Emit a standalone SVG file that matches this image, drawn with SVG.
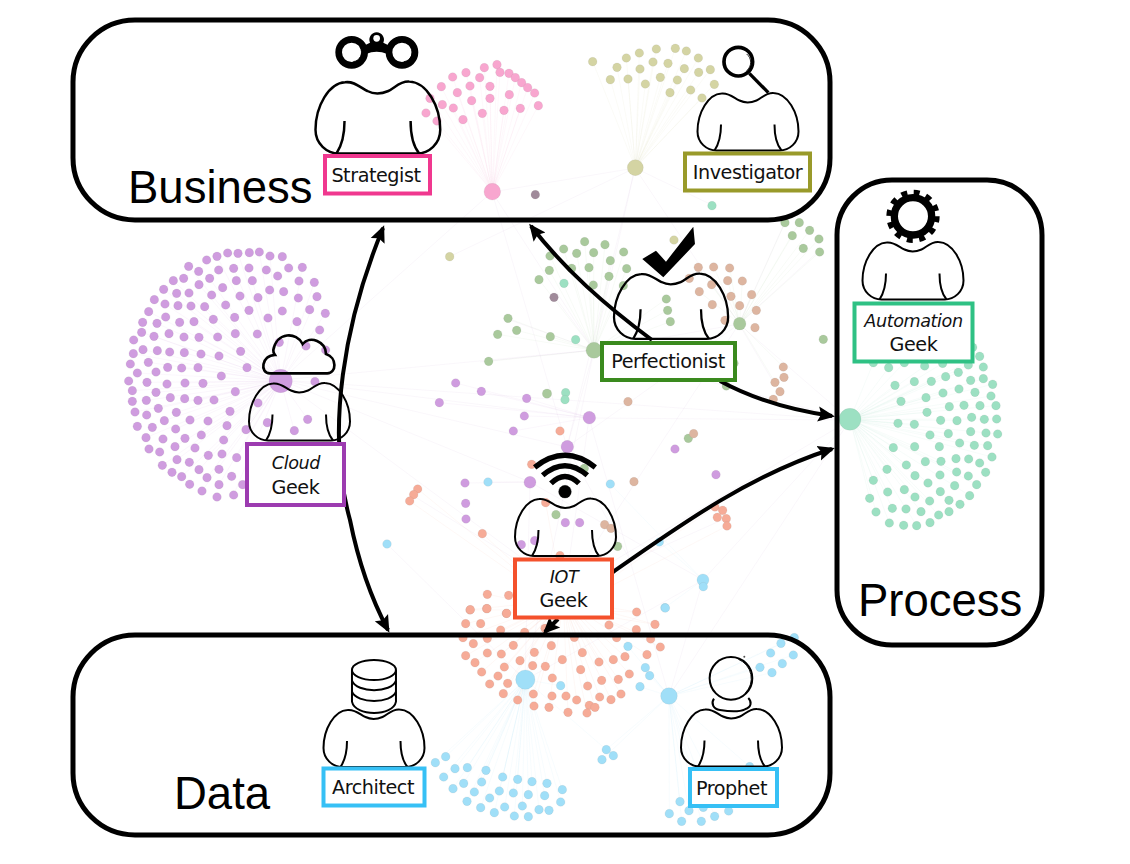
<svg xmlns="http://www.w3.org/2000/svg" xmlns:xlink="http://www.w3.org/1999/xlink" width="1130" height="864" viewBox="0 0 1130 864">
<style>
text{font-family:"DejaVu Sans","Liberation Sans",sans-serif;font-size:19.2px;letter-spacing:-.45px;fill:#111;text-anchor:middle}
text.i{font-style:italic;font-size:17.6px;letter-spacing:-.4px}
text.t{font-family:"Liberation Sans",Arial,sans-serif;font-size:45.5px;letter-spacing:0;text-anchor:start;fill:#000}
.region{fill:none;stroke:#000;stroke-width:5}
.lab{fill:#fff;stroke-width:4}
.body{fill:none;stroke:#000;stroke-width:2}
.body path{vector-effect:non-scaling-stroke}
.ic{fill:none;stroke:#000;stroke-linecap:butt}
.dots circle{stroke:#777;stroke-opacity:.2;stroke-width:1.5}
.edge{fill:none;stroke-width:2.5;stroke-opacity:.1}
.far{fill:none;stroke-width:1;stroke-opacity:.09}
.pink{fill:#f8a6cf}.pinke{stroke:#f8a6cf}
.olive{fill:#d4d4a3}.olivee{stroke:#d4d4a3}
.purple{fill:#cf9cdf}.purplee{stroke:#cf9cdf}
.green{fill:#a9c99c}.greene{stroke:#a9c99c}
.tan{fill:#ddb5a0}
.teal{fill:#9ce0c2}.teale{stroke:#9ce0c2}
.orange{fill:#f6ab97}.orangee{stroke:#f6ab97}
.blue{fill:#a0dff8}.bluee{stroke:#a0dff8}
.mauve{fill:#a08a9a}
.conn{fill:none;stroke:#000;stroke-width:4}
</style>
<defs>
<marker id="ah" markerUnits="userSpaceOnUse" markerWidth="20" markerHeight="18" viewBox="0 0 20 18" refX="14" refY="9" orient="auto-start-reverse"><path d="M0 1.500L17 9L0 16.500L3 9Z" fill="#000"/></marker>
<g id="bodyShape"><path d="M24 1C32 0 37 6 42 8C47 10.500 53 10.500 59 8C64 6 68 0 76 .5C90 1 101 20 101 39C101 50 92 58 82 58L19 58C9 58 0 50 0 39C0 20 11 1.500 24 1Z"/><path d="M23.500 32C23.500 43 21 52 17 58M77 32C77 43 79 52 84 58"/></g>
</defs>

<g id="network">
<g id="farEdges">
<path class="far" stroke="#c9a8d8" d="M281 380L594 350M281 380L589 418M281 380L850 420M281 380L567 447M281 380L530 482M281 380L565 590M589 418L850 420M567 447L492 192M567 447L739 324M530 482L525 680M530 482L703 580M594 350L492 192M594 350L635 168M594 350L739 324M594 350L850 420M594 350L567 447M739 324L850 420M739 324L635 168M635 168L712 205M492 192L635 168M492 192L281 380M635 168L567 447M635 168L449 257M703 580L850 420M703 580L669 696M703 580L525 680M669 696L850 420M565 590L850 420M565 590L589 418M565 590L412 495M565 590L722 520M565 590L739 324M525 680L387 544M525 680L594 350M669 696L589 418M530 482L466 483M530 482L488 482M567 447L630 560M739 324L785 222M739 324L820 250M739 324L775 385M594 350L510 320M594 350L480 362M594 350L555 297"/>
</g>
<g transform="translate(300 20) scale(.3333)">
<path class="edge pinke" d="M577 515L591 134M577 515L553 143M577 515L498 158M577 515L458 171M577 515L424 200M577 515L390 235M577 515L378 279M577 515L411 303M577 515L427 254M577 515L460 264M577 515L489 299M577 515L472 218M577 515L515 242M577 515L510 198M577 515L539 173M577 515L600 157M577 515L627 160M577 515L646 173M577 515L665 188M577 515L683 203M577 515L704 219M577 515L715 257M577 515L661 265M577 515L612 271M577 515L547 280M577 515L570 235M577 515L570 199M577 515L628 224"/>
<g class="dots pink">
<circle cx="591" cy="134" r="13"/><circle cx="553" cy="143" r="13"/><circle cx="498" cy="158" r="13"/><circle cx="458" cy="171" r="13"/><circle cx="424" cy="200" r="13"/><circle cx="390" cy="235" r="13"/><circle cx="378" cy="279" r="13"/><circle cx="411" cy="303" r="13"/><circle cx="427" cy="254" r="13"/><circle cx="460" cy="264" r="13"/><circle cx="489" cy="299" r="13"/><circle cx="472" cy="218" r="13"/><circle cx="515" cy="242" r="13"/><circle cx="510" cy="198" r="13"/><circle cx="539" cy="173" r="13"/><circle cx="600" cy="157" r="13"/><circle cx="627" cy="160" r="13"/><circle cx="646" cy="173" r="13"/><circle cx="665" cy="188" r="13"/><circle cx="683" cy="203" r="13"/><circle cx="704" cy="219" r="13"/><circle cx="715" cy="257" r="13"/><circle cx="661" cy="265" r="13"/><circle cx="612" cy="271" r="13"/><circle cx="547" cy="280" r="13"/><circle cx="570" cy="235" r="13"/><circle cx="570" cy="199" r="13"/><circle cx="628" cy="224" r="13"/><circle cx="577" cy="515" r="25"/>
</g>
<g class="dots mauve"><circle cx="706" cy="524" r="13"/></g>
</g>
<g transform="translate(570 30) scale(.3333)">
<path class="edge olivee" d="M196 413L68 95M196 413L141 112M196 413L169 84M196 413L208 69M196 413L259 57M196 413L316 55M196 413L349 63M196 413L385 84M196 413L421 119M196 413L433 163M196 413L396 204M196 413L362 180M196 413L300 188M196 413L226 162M196 413L174 147M196 413L121 149M196 413L210 117M196 413L249 96M196 413L294 100M196 413L343 116M196 413L386 127M196 413L322 150M196 413L271 142"/>
<g class="dots olive">
<circle cx="68" cy="95" r="13"/><circle cx="141" cy="112" r="13"/><circle cx="169" cy="84" r="13"/><circle cx="208" cy="69" r="13"/><circle cx="259" cy="57" r="13"/><circle cx="316" cy="55" r="13"/><circle cx="349" cy="63" r="13"/><circle cx="385" cy="84" r="13"/><circle cx="421" cy="119" r="13"/><circle cx="433" cy="163" r="13"/><circle cx="396" cy="204" r="13"/><circle cx="362" cy="180" r="13"/><circle cx="300" cy="188" r="13"/><circle cx="226" cy="162" r="13"/><circle cx="174" cy="147" r="13"/><circle cx="121" cy="149" r="13"/><circle cx="210" cy="117" r="13"/><circle cx="249" cy="96" r="13"/><circle cx="294" cy="100" r="13"/><circle cx="343" cy="116" r="13"/><circle cx="386" cy="127" r="13"/><circle cx="322" cy="150" r="13"/><circle cx="271" cy="142" r="13"/><circle cx="196" cy="413" r="24"/>
</g>
<g class="dots teal"><circle cx="426" cy="527" r="13"/></g>
</g>
<g transform="translate(120 240) scale(.3333)">
<path class="edge purplee" d="M482 423L418 36M482 423L354 40M482 423L291 49M482 423L206 79M482 423L160 122M482 423L131 148M482 423L86 215M482 423L65 277M482 423L40 341M482 423L52 399M482 423L37 452M482 423L45 516M482 423L78 593M482 423L127 676M482 423L185 710M482 423L246 753M482 423L341 765M482 423L450 48M482 423L547 82M482 423L583 127M482 423L591 170M482 423L616 220M482 423L599 270M482 423L341 85M482 423L269 115M482 423L397 122M482 423L237 134M482 423L170 160M482 423L135 192M482 423L254 200M482 423L111 250M482 423L222 245M482 423L102 289M482 423L237 292M482 423L69 329M482 423L193 338M482 423L85 367M482 423L185 384M482 423L81 427M482 423L195 429M482 423L108 457M482 423L79 481M482 423L234 481M482 423L115 505M482 423L169 517M482 423L133 542M482 423L264 543M482 423L167 567M482 423L244 585M482 423L165 620M482 423L265 646M482 423L171 659M482 423L237 689M482 423L261 713M482 423L297 734M482 423L350 653M482 423L378 569M482 423L523 572M482 423L563 538"/>
<g class="dots purple">
<circle cx="418" cy="36" r="13"/><circle cx="388" cy="38" r="13"/><circle cx="354" cy="40" r="13"/><circle cx="323" cy="39" r="13"/><circle cx="291" cy="49" r="13"/><circle cx="260" cy="60" r="13"/><circle cx="206" cy="79" r="13"/><circle cx="236" cy="94" r="13"/><circle cx="160" cy="122" r="13"/><circle cx="191" cy="115" r="13"/><circle cx="131" cy="148" r="13"/><circle cx="103" cy="179" r="13"/><circle cx="86" cy="215" r="13"/><circle cx="68" cy="247" r="13"/><circle cx="65" cy="277" r="13"/><circle cx="41" cy="300" r="13"/><circle cx="40" cy="341" r="13"/><circle cx="31" cy="372" r="13"/><circle cx="52" cy="399" r="13"/><circle cx="26" cy="423" r="13"/><circle cx="37" cy="452" r="13"/><circle cx="37" cy="484" r="13"/><circle cx="45" cy="516" r="13"/><circle cx="52" cy="559" r="13"/><circle cx="78" cy="593" r="13"/><circle cx="87" cy="627" r="13"/><circle cx="127" cy="676" r="13"/><circle cx="156" cy="697" r="13"/><circle cx="185" cy="710" r="13"/><circle cx="209" cy="733" r="13"/><circle cx="246" cy="753" r="13"/><circle cx="291" cy="771" r="13"/><circle cx="341" cy="765" r="13"/><circle cx="368" cy="734" r="13"/>
<circle cx="450" cy="48" r="13"/><circle cx="487" cy="50" r="13"/><circle cx="547" cy="82" r="13"/><circle cx="506" cy="84" r="13"/><circle cx="583" cy="127" r="13"/><circle cx="537" cy="123" r="13"/><circle cx="591" cy="170" r="13"/><circle cx="535" cy="174" r="13"/><circle cx="616" cy="220" r="13"/><circle cx="569" cy="209" r="13"/><circle cx="599" cy="270" r="13"/><circle cx="531" cy="245" r="13"/><circle cx="617" cy="330" r="13"/><circle cx="558" cy="318" r="13"/><circle cx="585" cy="425" r="13"/><circle cx="563" cy="538" r="13"/><circle cx="523" cy="572" r="13"/><circle cx="478" cy="307" r="13"/>
<circle cx="296" cy="90" r="13"/><circle cx="341" cy="85" r="13"/><circle cx="387" cy="84" r="13"/><circle cx="439" cy="90" r="13"/><circle cx="473" cy="108" r="13"/><circle cx="269" cy="115" r="13"/><circle cx="349" cy="122" r="13"/><circle cx="397" cy="122" r="13"/><circle cx="449" cy="150" r="13"/><circle cx="491" cy="155" r="13"/><circle cx="237" cy="134" r="13"/><circle cx="308" cy="143" r="13"/><circle cx="207" cy="159" r="13"/><circle cx="170" cy="160" r="13"/><circle cx="275" cy="165" r="13"/><circle cx="360" cy="168" r="13"/><circle cx="414" cy="173" r="13"/><circle cx="487" cy="213" r="13"/><circle cx="135" cy="192" r="13"/><circle cx="174" cy="197" r="13"/><circle cx="213" cy="198" r="13"/><circle cx="254" cy="200" r="13"/><circle cx="317" cy="195" r="13"/><circle cx="387" cy="211" r="13"/><circle cx="444" cy="234" r="13"/><circle cx="111" cy="250" r="13"/><circle cx="137" cy="231" r="13"/><circle cx="179" cy="247" r="13"/><circle cx="222" cy="245" r="13"/><circle cx="280" cy="238" r="13"/><circle cx="344" cy="232" r="13"/><circle cx="102" cy="289" r="13"/><circle cx="147" cy="281" r="13"/><circle cx="192" cy="291" r="13"/><circle cx="237" cy="292" r="13"/><circle cx="293" cy="291" r="13"/><circle cx="346" cy="281" r="13"/><circle cx="412" cy="282" r="13"/><circle cx="69" cy="329" r="13"/><circle cx="112" cy="332" r="13"/><circle cx="149" cy="336" r="13"/><circle cx="193" cy="338" r="13"/><circle cx="243" cy="342" r="13"/><circle cx="297" cy="348" r="13"/><circle cx="362" cy="334" r="13"/><circle cx="85" cy="367" r="13"/><circle cx="143" cy="382" r="13"/><circle cx="185" cy="384" r="13"/><circle cx="234" cy="383" r="13"/><circle cx="381" cy="383" r="13"/><circle cx="108" cy="396" r="13"/><circle cx="304" cy="408" r="13"/><circle cx="81" cy="427" r="13"/><circle cx="141" cy="432" r="13"/><circle cx="195" cy="429" r="13"/><circle cx="249" cy="430" r="13"/><circle cx="108" cy="457" r="13"/><circle cx="346" cy="455" r="13"/><circle cx="79" cy="481" r="13"/><circle cx="151" cy="473" r="13"/><circle cx="194" cy="476" r="13"/><circle cx="234" cy="481" r="13"/><circle cx="282" cy="480" r="13"/><circle cx="414" cy="489" r="13"/><circle cx="115" cy="505" r="13"/><circle cx="80" cy="525" r="13"/><circle cx="169" cy="517" r="13"/><circle cx="330" cy="514" r="13"/><circle cx="133" cy="542" r="13"/><circle cx="97" cy="562" r="13"/><circle cx="210" cy="540" r="13"/><circle cx="264" cy="543" r="13"/><circle cx="321" cy="557" r="13"/><circle cx="442" cy="548" r="13"/><circle cx="378" cy="569" r="13"/><circle cx="167" cy="567" r="13"/><circle cx="129" cy="597" r="13"/><circle cx="195" cy="595" r="13"/><circle cx="244" cy="585" r="13"/><circle cx="311" cy="600" r="13"/><circle cx="165" cy="620" r="13"/><circle cx="119" cy="636" r="13"/><circle cx="225" cy="624" r="13"/><circle cx="265" cy="646" r="13"/><circle cx="306" cy="642" r="13"/><circle cx="350" cy="653" r="13"/><circle cx="171" cy="659" r="13"/><circle cx="208" cy="667" r="13"/><circle cx="237" cy="689" r="13"/><circle cx="297" cy="688" r="13"/><circle cx="261" cy="713" r="13"/><circle cx="335" cy="709" r="13"/><circle cx="297" cy="734" r="13"/><circle cx="482" cy="423" r="35"/>
</g>
</g>
<g transform="translate(430 220) scale(.3333)">
<path class="edge greene" d="M492 391L360 108M492 391L401 87M492 391L464 65M492 391L525 74M492 391L440 100M492 391L491 98M492 391L581 96M492 391L541 122M492 391L358 151M492 391L327 179M492 391L425 145M492 391L477 143M492 391L537 169M492 391L590 146M492 391L490 195M492 391L580 197M492 391L234 295M492 391L260 331M492 391L203 343M492 391L361 350M492 391L176 424M492 391L709 237M492 391L713 271M492 391L721 305M929 311L805 142M929 311L851 141M929 311L899 144M929 311L845 194M929 311L893 182M929 311L937 183M929 311L808 215M929 311L903 229M929 311L965 224M929 311L1065 8M929 311L1108 8M929 311L1087 47M929 311L1139 31M929 311L1167 57M929 311L1120 85M929 311L1169 96M929 311L1060 441M929 311L1035 487"/>
<path class="edge purplee" d="M478 593L77 489M478 593L154 514M478 593L28 548M478 593L290 535M478 593L283 588M478 593L250 633"/>
<g class="dots green">
<circle cx="360" cy="108" r="13"/><circle cx="401" cy="87" r="13"/><circle cx="464" cy="65" r="13"/><circle cx="525" cy="74" r="13"/><circle cx="440" cy="100" r="13"/><circle cx="491" cy="98" r="13"/><circle cx="581" cy="96" r="13"/><circle cx="541" cy="122" r="13"/><circle cx="358" cy="151" r="13"/><circle cx="327" cy="179" r="13"/><circle cx="425" cy="145" r="13"/><circle cx="477" cy="143" r="13"/><circle cx="537" cy="169" r="13"/><circle cx="590" cy="146" r="13"/><circle cx="490" cy="195" r="13"/><circle cx="580" cy="197" r="13"/><circle cx="709" cy="237" r="13"/><circle cx="713" cy="271" r="13"/><circle cx="721" cy="305" r="13"/><circle cx="234" cy="295" r="13"/><circle cx="260" cy="331" r="13"/><circle cx="203" cy="343" r="13"/><circle cx="361" cy="350" r="13"/><circle cx="176" cy="424" r="13"/><circle cx="351" cy="521" r="14"/><circle cx="889" cy="498" r="13"/><circle cx="912" cy="430" r="13"/><circle cx="1065" cy="8" r="13"/><circle cx="1108" cy="8" r="13"/><circle cx="1087" cy="47" r="13"/><circle cx="1139" cy="31" r="13"/><circle cx="1167" cy="57" r="13"/><circle cx="1120" cy="85" r="13"/><circle cx="1169" cy="96" r="13"/><circle cx="1180" cy="358" r="13"/><circle cx="775" cy="655" r="13"/><circle cx="492" cy="391" r="24"/><circle cx="929" cy="311" r="19"/>
</g>
<g class="dots tan">
<circle cx="805" cy="142" r="13"/><circle cx="851" cy="141" r="13"/><circle cx="899" cy="144" r="13"/><circle cx="778" cy="175" r="13"/><circle cx="845" cy="194" r="13"/><circle cx="893" cy="182" r="13"/><circle cx="937" cy="183" r="13"/><circle cx="808" cy="215" r="13"/><circle cx="903" cy="229" r="13"/><circle cx="965" cy="224" r="13"/><circle cx="847" cy="254" r="13"/><circle cx="929" cy="257" r="13"/><circle cx="979" cy="271" r="13"/><circle cx="885" cy="301" r="13"/><circle cx="975" cy="323" r="13"/><circle cx="1060" cy="441" r="13"/><circle cx="1062" cy="472" r="13"/><circle cx="1035" cy="487" r="13"/><circle cx="1050" cy="515" r="13"/><circle cx="1030" cy="538" r="13"/><circle cx="594" cy="545" r="13"/><circle cx="791" cy="641" r="13"/>
</g>
<g class="dots teal"><circle cx="402" cy="190" r="13"/><circle cx="437" cy="359" r="13"/><circle cx="407" cy="518" r="13"/><circle cx="405" cy="539" r="13"/></g>
<g class="dots mauve"><circle cx="372" cy="232" r="13"/></g>
<g class="dots olive"><circle cx="59" cy="110" r="13"/><circle cx="732" cy="60" r="13"/></g>
<g class="dots purple"><circle cx="77" cy="489" r="13"/><circle cx="154" cy="514" r="13"/><circle cx="28" cy="548" r="13"/><circle cx="290" cy="535" r="13"/><circle cx="283" cy="588" r="13"/><circle cx="250" cy="633" r="13"/><circle cx="478" cy="593" r="19"/></g>
<g class="dots orange"><circle cx="390" cy="633" r="13"/></g>
</g>
<g transform="translate(830 180) scale(.3333)">
<path class="edge teale" d="M60 718L130 548M60 718L176 563M60 718L223 548M60 718L284 558M60 718L338 550M60 718L415 555M60 718L449 529M60 718L385 577M60 718L304 604M60 718L253 605M60 718L195 616M60 718L460 596M60 718L488 613M60 718L339 639M60 718L288 653M60 718L213 664M60 718L483 648M60 718L358 680M60 718L498 677M60 718L291 697M60 718L381 722M60 718L500 717M60 718L204 730M60 718L253 733M60 718L355 761M60 718L503 762M60 718L190 803M60 718L254 800M60 718L389 789M60 718L473 797M60 718L229 855M60 718L333 844M60 718L486 831M60 718L171 868M60 718L255 887M60 718L380 876M60 718L130 901M60 718L294 909M60 718L440 914M60 718L173 936M60 718L255 951M60 718L419 947M60 718L119 955M60 718L299 963M60 718L187 985M60 718L273 995M60 718L138 996M60 718L178 1029M60 718L260 1037M60 718L326 1005"/>
<g class="dots teal">
<circle cx="130" cy="548" r="13"/><circle cx="176" cy="563" r="13"/><circle cx="223" cy="548" r="13"/><circle cx="284" cy="558" r="13"/><circle cx="338" cy="550" r="13"/><circle cx="415" cy="555" r="13"/><circle cx="428" cy="502" r="13"/><circle cx="449" cy="529" r="13"/><circle cx="460" cy="561" r="13"/><circle cx="385" cy="577" r="13"/><circle cx="347" cy="590" r="13"/><circle cx="304" cy="604" r="13"/><circle cx="253" cy="605" r="13"/><circle cx="195" cy="616" r="13"/><circle cx="422" cy="601" r="13"/><circle cx="460" cy="596" r="13"/><circle cx="488" cy="613" r="13"/><circle cx="387" cy="627" r="13"/><circle cx="339" cy="639" r="13"/><circle cx="288" cy="653" r="13"/><circle cx="213" cy="664" r="13"/><circle cx="435" cy="637" r="13"/><circle cx="483" cy="648" r="13"/><circle cx="358" cy="680" r="13"/><circle cx="402" cy="676" r="13"/><circle cx="450" cy="677" r="13"/><circle cx="498" cy="677" r="13"/><circle cx="291" cy="697" r="13"/><circle cx="332" cy="721" r="13"/><circle cx="381" cy="722" r="13"/><circle cx="425" cy="712" r="13"/><circle cx="463" cy="718" r="13"/><circle cx="500" cy="717" r="13"/><circle cx="204" cy="730" r="13"/><circle cx="253" cy="733" r="13"/><circle cx="300" cy="765" r="13"/><circle cx="355" cy="761" r="13"/><circle cx="422" cy="755" r="13"/><circle cx="468" cy="759" r="13"/><circle cx="503" cy="762" r="13"/><circle cx="190" cy="803" r="13"/><circle cx="254" cy="800" r="13"/><circle cx="328" cy="800" r="13"/><circle cx="389" cy="789" r="13"/><circle cx="433" cy="796" r="13"/><circle cx="473" cy="797" r="13"/><circle cx="378" cy="836" r="13"/><circle cx="416" cy="837" r="13"/><circle cx="486" cy="831" r="13"/><circle cx="449" cy="849" r="13"/><circle cx="229" cy="855" r="13"/><circle cx="286" cy="845" r="13"/><circle cx="333" cy="844" r="13"/><circle cx="171" cy="868" r="13"/><circle cx="255" cy="887" r="13"/><circle cx="330" cy="885" r="13"/><circle cx="380" cy="876" r="13"/><circle cx="415" cy="888" r="13"/><circle cx="467" cy="877" r="13"/><circle cx="130" cy="901" r="13"/><circle cx="294" cy="909" r="13"/><circle cx="374" cy="917" r="13"/><circle cx="440" cy="914" r="13"/><circle cx="173" cy="936" r="13"/><circle cx="223" cy="929" r="13"/><circle cx="255" cy="951" r="13"/><circle cx="331" cy="935" r="13"/><circle cx="419" cy="947" r="13"/><circle cx="119" cy="955" r="13"/><circle cx="299" cy="963" r="13"/><circle cx="357" cy="961" r="13"/><circle cx="390" cy="973" r="13"/><circle cx="187" cy="985" r="13"/><circle cx="228" cy="987" r="13"/><circle cx="273" cy="995" r="13"/><circle cx="357" cy="995" r="13"/><circle cx="138" cy="996" r="13"/><circle cx="326" cy="1005" r="13"/><circle cx="178" cy="1029" r="13"/><circle cx="221" cy="1036" r="13"/><circle cx="260" cy="1037" r="13"/><circle cx="300" cy="1028" r="13"/><circle cx="60" cy="718" r="33"/>
</g>
</g>
<g transform="translate(380 440) scale(.3333)">
<path class="edge orangee" d="M555 510L322 463M555 510L270 510M555 510L307 281M555 510L497 188M555 510L540 347M555 510L1005 201M555 510L1041 258M555 510L113 147M555 510L89 183M555 510L824 553M555 510L769 516"/>
<path class="edge bluee" d="M969 420L855 503M969 420L838 306M969 420L691 132"/>
<g class="dots purple"><circle cx="885" cy="27" r="13"/><circle cx="255" cy="129" r="13"/><circle cx="257" cy="190" r="13"/><circle cx="258" cy="237" r="13"/><circle cx="424" cy="314" r="13"/><circle cx="464" cy="302" r="13"/><circle cx="556" cy="248" r="13"/><circle cx="599" cy="248" r="13"/><circle cx="1008" cy="104" r="13"/><circle cx="562" cy="20" r="19"/><circle cx="450" cy="127" r="18"/></g>
<g class="dots blue"><circle cx="324" cy="126" r="13"/><circle cx="691" cy="132" r="13"/><circle cx="21" cy="312" r="13"/><circle cx="838" cy="306" r="13"/><circle cx="855" cy="503" r="13"/><circle cx="969" cy="420" r="18"/><circle cx="970" cy="440" r="13"/></g>
<g class="dots green"><circle cx="528" cy="224" r="13"/><circle cx="613" cy="85" r="13"/><circle cx="713" cy="319" r="13"/></g>
<g class="dots tan"><circle cx="762" cy="125" r="13"/><circle cx="674" cy="254" r="13"/><circle cx="693" cy="265" r="13"/></g>
<g class="dots orange"><circle cx="113" cy="147" r="13"/><circle cx="101" cy="164" r="13"/><circle cx="89" cy="183" r="13"/><circle cx="455" cy="73" r="13"/><circle cx="497" cy="188" r="13"/><circle cx="307" cy="281" r="13"/><circle cx="540" cy="347" r="13"/><circle cx="1005" cy="201" r="13"/><circle cx="1028" cy="211" r="13"/><circle cx="1012" cy="232" r="13"/><circle cx="1039" cy="236" r="13"/><circle cx="1041" cy="258" r="13"/><circle cx="322" cy="463" r="13"/><circle cx="386" cy="466" r="13"/><circle cx="270" cy="510" r="13"/><circle cx="320" cy="506" r="13"/><circle cx="379" cy="520" r="13"/></g>
</g>
<g transform="translate(430 600) scale(.3333)">
<path class="edge orangee" d="M400 0L121 29M400 0L107 71M400 0L212 90M400 0L99 113M400 0L172 115M400 0L250 136M400 0L107 167M400 0L214 162M400 0L135 188M400 0L270 182M400 0L155 216M400 0L223 201M400 0L204 228M400 0L233 250M400 0L220 281M400 0L310 282M400 0L263 300M400 0L312 318M400 0L357 322M400 0L414 337M400 0L471 339M400 0L495 322M400 0L440 300M400 0L509 291M400 0L543 299M400 0L573 282M400 0L565 238M400 0L598 222M400 0L585 170M400 0L651 164M400 0L691 141M400 0L662 117M400 0L675 73M400 0L620 36M400 0L457 158M400 0L507 186"/>
<path class="edge bluee" d="M286 239L47 470M286 239L16 488M286 239L75 506M286 239L112 503M286 239L168 511M286 239L41 531M286 239L101 550M286 239L155 546M286 239L218 531M286 239L263 538M286 239L306 545M286 239L351 550M286 239L69 566M286 239L133 576M286 239L208 573M286 239L250 579M286 239L295 584M286 239L344 587M286 239L397 569M286 239L111 604M286 239L392 606M286 239L152 623M286 239L224 621M286 239L277 618M286 239L327 629M286 239L193 638M286 239L253 648M286 239L529 449M286 239L392 257M717 288L529 449M717 288L516 479M717 288L646 203M717 288L659 227M717 288L630 260M717 288L594 139M717 288L718 641M717 288L750 605M717 288L777 632M717 288L820 622M717 288L896 633M717 288L959 500M717 288L854 649M717 288L755 664M717 288L814 664M717 288L990 202M717 288L1026 218M717 288L1053 130M717 288L1093 113M717 288L1090 165"/>
<g class="dots orange">
<circle cx="121" cy="29" r="13"/><circle cx="171" cy="26" r="13"/><circle cx="230" cy="40" r="13"/><circle cx="107" cy="71" r="13"/><circle cx="152" cy="71" r="13"/><circle cx="212" cy="90" r="13"/><circle cx="284" cy="97" r="13"/><circle cx="345" cy="85" r="13"/><circle cx="620" cy="36" r="13"/><circle cx="675" cy="73" r="13"/><circle cx="537" cy="75" r="13"/><circle cx="619" cy="89" r="13"/><circle cx="99" cy="113" r="13"/><circle cx="172" cy="115" r="13"/><circle cx="433" cy="112" r="13"/><circle cx="560" cy="113" r="13"/><circle cx="662" cy="117" r="13"/><circle cx="130" cy="131" r="13"/><circle cx="250" cy="136" r="13"/><circle cx="364" cy="137" r="13"/><circle cx="691" cy="141" r="13"/><circle cx="107" cy="167" r="13"/><circle cx="172" cy="159" r="13"/><circle cx="214" cy="162" r="13"/><circle cx="313" cy="157" r="13"/><circle cx="457" cy="158" r="13"/><circle cx="651" cy="164" r="13"/><circle cx="135" cy="188" r="13"/><circle cx="270" cy="182" r="13"/><circle cx="397" cy="179" r="13"/><circle cx="507" cy="186" r="13"/><circle cx="550" cy="179" r="13"/><circle cx="585" cy="170" r="13"/><circle cx="223" cy="201" r="13"/><circle cx="308" cy="197" r="13"/><circle cx="346" cy="199" r="13"/><circle cx="452" cy="209" r="13"/><circle cx="155" cy="216" r="13"/><circle cx="204" cy="228" r="13"/><circle cx="367" cy="234" r="13"/><circle cx="598" cy="222" r="13"/><circle cx="515" cy="241" r="13"/><circle cx="565" cy="238" r="13"/><circle cx="233" cy="250" r="13"/><circle cx="179" cy="252" r="13"/><circle cx="473" cy="258" r="13"/><circle cx="220" cy="281" r="13"/><circle cx="310" cy="282" r="13"/><circle cx="366" cy="288" r="13"/><circle cx="408" cy="288" r="13"/><circle cx="440" cy="300" r="13"/><circle cx="509" cy="291" r="13"/><circle cx="573" cy="282" r="13"/><circle cx="543" cy="299" r="13"/><circle cx="263" cy="300" r="13"/><circle cx="312" cy="318" r="13"/><circle cx="357" cy="322" r="13"/><circle cx="478" cy="316" r="13"/><circle cx="495" cy="322" r="13"/><circle cx="414" cy="337" r="13"/><circle cx="471" cy="339" r="13"/>
</g>
<g class="dots blue">
<circle cx="286" cy="239" r="29"/><circle cx="717" cy="288" r="25"/><circle cx="706" cy="24" r="13"/><circle cx="594" cy="139" r="13"/><circle cx="646" cy="203" r="13"/><circle cx="659" cy="227" r="13"/><circle cx="630" cy="260" r="13"/><circle cx="392" cy="257" r="13"/><circle cx="1093" cy="113" r="13"/><circle cx="1053" cy="130" r="13"/><circle cx="1022" cy="159" r="13"/><circle cx="1090" cy="165" r="13"/><circle cx="1057" cy="191" r="13"/><circle cx="990" cy="202" r="13"/><circle cx="1026" cy="218" r="13"/><circle cx="47" cy="470" r="13"/><circle cx="16" cy="488" r="13"/><circle cx="75" cy="506" r="13"/><circle cx="112" cy="503" r="13"/><circle cx="168" cy="511" r="13"/><circle cx="41" cy="531" r="13"/><circle cx="101" cy="550" r="13"/><circle cx="155" cy="546" r="13"/><circle cx="218" cy="531" r="13"/><circle cx="263" cy="538" r="13"/><circle cx="306" cy="545" r="13"/><circle cx="351" cy="550" r="13"/><circle cx="69" cy="566" r="13"/><circle cx="133" cy="576" r="13"/><circle cx="208" cy="573" r="13"/><circle cx="250" cy="579" r="13"/><circle cx="295" cy="584" r="13"/><circle cx="344" cy="587" r="13"/><circle cx="397" cy="569" r="13"/><circle cx="179" cy="594" r="13"/><circle cx="111" cy="604" r="13"/><circle cx="392" cy="606" r="13"/><circle cx="152" cy="623" r="13"/><circle cx="224" cy="621" r="13"/><circle cx="277" cy="618" r="13"/><circle cx="327" cy="629" r="13"/><circle cx="357" cy="631" r="13"/><circle cx="193" cy="638" r="13"/><circle cx="253" cy="648" r="13"/><circle cx="295" cy="650" r="13"/><circle cx="529" cy="449" r="13"/><circle cx="550" cy="467" r="13"/><circle cx="516" cy="479" r="13"/><circle cx="959" cy="500" r="13"/><circle cx="750" cy="605" r="13"/><circle cx="777" cy="632" r="13"/><circle cx="820" cy="622" r="13"/><circle cx="896" cy="633" r="13"/><circle cx="718" cy="641" r="13"/><circle cx="755" cy="664" r="13"/><circle cx="814" cy="664" r="13"/><circle cx="854" cy="649" r="13"/>
</g>
</g>
</g>

<g id="region-business"><rect class="region" x="73" y="20" width="757" height="200" rx="62"/><text class="t" x="128" y="203">Business</text></g>
<g id="region-process"><rect class="region" x="837" y="180" width="205" height="465" rx="55"/><text class="t" x="858" y="616">Process</text></g>
<g id="region-data"><rect class="region" x="73" y="635" width="757" height="200" rx="62"/><text class="t" x="174" y="809">Data</text></g>

<g id="connectors">
<path class="conn" marker-start="url(#ah)" marker-end="url(#ah)" d="M383 228C345 320 325 430 350 520C358 560 372 600 388 630"/>
<path class="conn" marker-end="url(#ah)" d="M652 340C605 305 565 270 531 226"/>
<path class="conn" marker-end="url(#ah)" d="M720 381C755 400 790 410 832 416"/>
<path class="conn" marker-end="url(#ah)" d="M613 572C680 525 750 475 832 449"/>
<path class="conn" marker-end="url(#ah)" d="M558 619L545 632"/>
</g>

<g id="strategist">
<use xlink:href="#bodyShape" class="body" transform="translate(315.500 81) scale(1.235 1.25)"/>
<g class="ic" transform="translate(300 20) scale(.3333)">
<circle cx="155" cy="97" r="39" stroke-width="20"/><circle cx="306" cy="97" r="39" stroke-width="20"/>
<path d="M190 78L210 68A22 22 0 1 1 250 68L270 78L262 102Q230 88 198 102Z" fill="#000" stroke="none"/><circle cx="230" cy="55" r="10" fill="#fff" stroke="none"/>
<path d="M180 82A28 28 0 0 1 160 125M332 82A28 28 0 0 1 312 125" stroke-width="2.500"/>
</g>
<rect class="lab" x="325" y="156" width="105" height="37.500" stroke="#f0388f"/><text x="376" y="182">Strategist</text>
</g>

<g id="investigator">
<use xlink:href="#bodyShape" class="body" transform="translate(697.500 92.500)"/>
<g class="ic" transform="translate(570 30) scale(.3333)">
<circle cx="505" cy="95" r="43" stroke-width="11"/><path d="M538 130L595 188" stroke-width="10"/><path d="M530 72A32 32 0 0 1 530 122" stroke-width="2.500"/>
</g>
<rect class="lab" x="685" y="153.500" width="125" height="37" stroke="#999a2a"/><text x="747.500" y="179">Investigator</text>
</g>

<g id="cloud-geek">
<use xlink:href="#bodyShape" class="body" transform="translate(249 382.500)"/>
<g class="ic" transform="translate(120 240) scale(.3333)">
<path stroke-width="8" d="M450 400L622 400C650 400 652 352 618 342C618 305 570 285 548 312C530 275 470 275 460 330C460 340 462 340 465 345C425 345 418 400 450 400Z"/>
</g>
<rect class="lab" x="247" y="444" width="97" height="61" stroke="#9c3bb0"/><text class="i" x="296" y="469">Cloud</text><text x="295.500" y="494">Geek</text>
</g>

<g id="perfectionist">
<use xlink:href="#bodyShape" class="body" transform="translate(614 273) scale(1.13 1.135)"/>
<path fill="#000" transform="translate(430 220) scale(.3333)" d="M637 117L678 92L708 125L790 20L795 72L700 172Z"/>
<rect class="lab" x="602" y="343" width="133" height="37" stroke="#3a8a1e"/><text x="668" y="368">Perfectionist</text>
</g>

<g id="automation-geek">
<use xlink:href="#bodyShape" class="body" transform="translate(862.500 241.500)"/>
<g class="ic" transform="translate(830 180) scale(.3333)">
<circle cx="249" cy="109" r="56" stroke-width="22"/><circle cx="249" cy="109" r="72" stroke-width="16" stroke-dasharray="18 19.700"/>
</g>
<rect class="lab" x="854.500" y="303.500" width="118" height="58" stroke="#2fc184"/><text class="i" x="913.500" y="327">Automation</text><text x="913.500" y="351">Geek</text>
</g>

<g id="iot-geek">
<use xlink:href="#bodyShape" class="body" transform="translate(515 498)"/>
<g class="ic" transform="translate(380 440) scale(.3333)">
<circle cx="555" cy="155" r="19" fill="#000"/><path stroke-width="16" d="M513 130Q555 88 597 130M488 106Q555 48 622 106M464 82Q555 10 646 82"/>
</g>
<rect class="lab" x="515" y="559.500" width="97" height="58" stroke="#f4512c"/><text class="i" x="564" y="583">IOT</text><text x="563.500" y="607">Geek</text>
</g>

<g id="architect">
<use xlink:href="#bodyShape" class="body" transform="translate(323.500 709)"/>
<g class="ic" transform="translate(60 630) scale(.3333)">
<ellipse cx="942" cy="120" rx="66" ry="30" stroke-width="6"/><path stroke-width="6" d="M876 120L876 215C885 260 1000 260 1008 215L1008 120M876 152C890 190 995 190 1008 152M876 185C890 222 995 222 1008 185"/>
</g>
<rect class="lab" x="323.500" y="768.500" width="101" height="37" stroke="#36c0f5"/><text x="373" y="794">Architect</text>
</g>

<g id="prophet">
<use xlink:href="#bodyShape" class="body" transform="translate(681 708.500)"/>
<g class="ic" transform="translate(430 600) scale(.3333)">
<circle cx="903" cy="235" r="64" stroke-width="6"/><path stroke-width="2.500" d="M925 178A62 62 0 0 1 945 280"/><path stroke-width="6" d="M852 296C842 310 850 327 870 330C900 335 930 335 945 328C965 322 966 305 955 294"/><circle cx="943" cy="170" r="3" fill="#555" stroke="none"/>
</g>
<rect class="lab" x="690" y="769" width="87" height="37" stroke="#36c0f5"/><text x="731.500" y="795">Prophet</text>
</g>
</svg>
